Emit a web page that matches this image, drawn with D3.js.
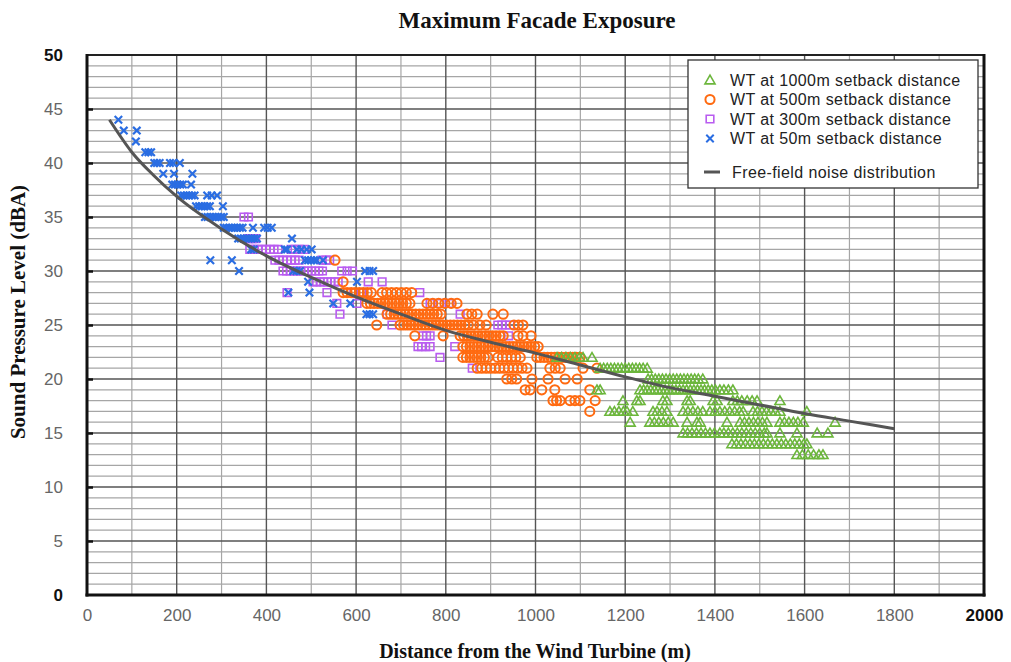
<!DOCTYPE html>
<html>
<head>
<meta charset="utf-8">
<script src="https://cdn.jsdelivr.net/npm/d3@7"></script>
<style>
  html, body { margin: 0; padding: 0; background: #fff; }
  svg { display: block; }
</style>
</head>
<body>
<svg id="chart" width="1011" height="662"></svg>
<script>
// Sound pressure level (dBA) at the facade versus distance from the turbine (m)
const wt50 = [
  [70,44],[82,43],[111,43],[109,42],[130,41],[137,41],[143,41],
  [150,40],[156,40],[162,40],[185,40],[192,40],[207,40],
  [170,39],[194,39],[235,39],
  [190,38],[196,38],[202,38],[208,38],[214,38],[232,38],
  [210,37],[216,37],[222,37],[228,37],[234,37],[240,37],[268,37],[278,37],[290,37],
  [243,36],[250,36],[256,36],[262,36],[268,36],[274,36],[303,36],
  [263,35],[269,35],[275,35],[281,35],[287,35],[293,35],[299,35],[305,35],
  [305,34],[311,34],[317,34],[323,34],[329,34],[335,34],[341,34],[347,34],[370,34],[395,34],[403,34],[412,34],
  [337,33],[343,33],[349,33],[355,33],[361,33],[367,33],[373,33],[379,33],[457,33],
  [366,32],[372,32],[441,32],[446,32],[468,32],[478,32],[490,32],[501,32],
  [275,31],[323,31],[486,31],[493,31],[500,31],[506,31],[512,31],[526,31],
  [339,30],[460,30],[467,30],[475,30],[620,30],[630,30],[638,30],
  [493,29],[602,29],
  [449,28],[496,28],
  [549,27],[587,27],
  [623,26],[630,26],[638,26]
];

const wt300 = [
  [350,35],[360,35],
  [360,33],[368,33],[376,33],
  [363,32],[372,32],[381,32],[390,32],[399,32],[408,32],[417,32],[426,32],[455,32],[464,32],[474,32],[485,32],
  [419,31],[428,31],[437,31],[446,31],[455,31],[464,31],[473,31],[524,31],[533,31],[541,31],
  [437,30],[445,30],[453,30],[461,30],[469,30],[477,30],[485,30],[493,30],[501,30],[509,30],[517,30],[525,30],[568,30],[580,30],[592,30],
  [504,29],[512,29],[520,29],[528,29],[536,29],[544,29],[552,29],[560,29],[627,29],[658,29],
  [446,28],[535,28],[595,28],[612,28],[742,28],
  [557,27],[602,27],[765,27],[787,27],[809,27],
  [564,26],[669,26],[832,26],
  [680,25],[916,25],[925,25],[934,25],[943,25],
  [749,24],[757,24],[765,24],[940,24],
  [738,23],[746,23],[755,23],[765,23],[820,23],
  [787,22],
  [859,21]
];

const wt500 = [
  [553,31],
  [571,29],
  [571,28],[580,28],[589,28],[598,28],[607,28],[616,28],[625,28],[634,28],[658,28],[668,28],[679,28],[690,28],[701,28],[712,28],[724,28],
  [624,27],[632,27],[640,27],[648,27],[656,27],[664,27],[672,27],[680,27],[688,27],[696,27],[704,27],[712,27],[720,27],[758,27],[771,27],[784,27],[798,27],[812,27],[825,27],
  [669,26],[677,26],[685,26],[693,26],[701,26],[709,26],[717,26],[725,26],[733,26],[741,26],[749,26],[757,26],[765,26],[773,26],[781,26],[789,26],[847,26],[858,26],[870,26],[905,26],[928,26],
  [646,25],[698,25],[706,25],[714,25],[722,25],[730,25],[738,25],[746,25],[754,25],[762,25],[770,25],[778,25],[786,25],[794,25],[802,25],[810,25],[818,25],[826,25],[834,25],[842,25],[850,25],[862,25],[876,25],[890,25],[952,25],[962,25],[972,25],
  [731,24],[794,24],[832,24],[840,24],[848,24],[856,24],[864,24],[872,24],[880,24],[888,24],[896,24],[904,24],[912,24],[920,24],[928,24],[961,24],[972,24],[990,24],
  [838,23],[846,23],[854,23],[862,23],[870,23],[878,23],[886,23],[894,23],[902,23],[910,23],[918,23],[926,23],[934,23],[942,23],[950,23],[958,23],[966,23],[974,23],[982,23],[990,23],[998,23],[1006,23],
  [838,22],[846,22],[854,22],[862,22],[870,22],[878,22],[886,22],[894,22],[916,22],[926,22],[936,22],[946,22],[956,22],[966,22],
  [1003,22],[1011,22],[1019,22],[1027,22],[1035,22],[1043,22],[1051,22],[1059,22],[1067,22],[1075,22],[1083,22],[1091,22],[1099,22],
  [870,21],[880,21],[890,21],[900,21],[910,21],[920,21],[930,21],[940,21],[950,21],[960,21],[970,21],[981,21],[1032,21],[1044,21],[1055,21],[1106,21],[1137,21],
  [936,20],[947,20],[958,20],[992,20],[1028,20],[1066,20],[1093,20],
  [977,19],[988,19],[1014,19],[1043,19],[1121,19],
  [1039,18],[1047,18],[1055,18],[1077,18],[1088,18],[1099,18],[1133,18],
  [1121,17]
];

const wt1000 = [
  [1048,22],[1058,22],[1068,22],[1078,22],[1088,22],[1098,22],[1106,22],[1126,22],
  [1144,21],[1152,21],[1160,21],[1168,21],[1176,21],[1184,21],[1192,21],[1200,21],[1208,21],[1216,21],[1224,21],[1232,21],[1240,21],[1249,21],
  [1251,20],[1259,20],[1267,20],[1275,20],[1283,20],[1291,20],[1299,20],[1307,20],[1315,20],[1323,20],[1331,20],[1339,20],[1347,20],[1355,20],[1363,20],[1373,20],
  [1137,19],[1144,19],[1233,19],[1241,19],[1249,19],[1257,19],[1265,19],[1273,19],[1281,19],[1289,19],[1297,19],[1305,19],[1313,19],[1321,19],[1329,19],[1337,19],[1345,19],[1353,19],[1361,19],[1369,19],[1377,19],[1385,19],[1393,19],[1401,19],[1411,19],[1420,19],[1430,19],[1440,19],
  [1195,18],[1226,18],[1233,18],[1284,18],[1293,18],[1338,18],[1345,18],[1396,18],[1405,18],[1440,18],[1450,18],[1460,18],[1472,18],[1483,18],[1494,18],[1545,18],
  [1166,17],[1176,17],[1186,17],[1196,17],[1204,17],[1217,17],[1262,17],[1271,17],[1282,17],[1293,17],[1329,17],[1340,17],[1351,17],[1362,17],[1373,17],[1389,17],[1400,17],[1411,17],[1422,17],[1433,17],[1444,17],[1455,17],[1463,17],[1485,17],[1495,17],[1505,17],[1515,17],[1525,17],[1535,17],[1545,17],[1605,17],
  [1211,16],[1255,16],[1265,16],[1275,16],[1285,16],[1296,16],[1307,16],[1338,16],[1360,16],[1367,16],[1427,16],[1456,16],[1466,16],[1476,16],[1486,16],[1496,16],[1506,16],[1516,16],[1545,16],[1555,16],[1565,16],[1575,16],[1585,16],[1597,16],[1668,16],
  [1329,15],[1339,15],[1349,15],[1359,15],[1369,15],[1379,15],[1389,15],[1399,15],[1411,15],[1420,15],[1430,15],[1440,15],[1450,15],[1460,15],[1470,15],[1480,15],[1490,15],[1500,15],[1510,15],[1516,15],[1545,15],[1583,15],[1628,15],[1652,15],
  [1438,14],[1448,14],[1458,14],[1468,14],[1478,14],[1488,14],[1498,14],[1508,14],[1518,14],[1528,14],[1538,14],[1548,14],[1558,14],[1568,14],[1578,14],[1588,14],[1598,14],[1605,14],
  [1583,13],[1595,13],[1608,13],[1620,13],[1632,13],[1641,13]
];

// Free-field noise distribution
const freeFieldDist  = [50,100,150,200,300,400,500,600,700,800,900,1000,1100,1200,1300,1400,1500,1600,1700,1800];
const freeFieldLevel = [44.0,41.0,38.8,36.9,33.9,31.4,29.4,27.6,26.0,24.5,23.4,22.4,21.3,20.2,19.2,18.4,17.6,16.8,16.1,15.4];

const xTickValues = [0,200,400,600,800,1000,1200,1400,1600,1800,2000];
const yTickValues = [0,5,10,15,20,25,30,35,40,45,50];

const legendLabels = [
  "WT at 1000m setback distance",
  "WT at 500m setback distance",
  "WT at 300m setback distance",
  "WT at 50m setback distance"
];
const lineLabel = "Free-field noise distribution";

const colors = { wt1000: "#6cb63c", wt500: "#ff6a10", wt300: "#b95cf0", wt50: "#2a6de2", line: "#555555" };

const svg = d3.select("#chart");
const plotL = 87, plotR = 984, plotT = 55, plotB = 595;

const x = d3.scaleLinear().domain([0, 2000]).range([plotL, plotR]);
const y = d3.scaleLinear().domain([0, 50]).range([plotB, plotT]);

// Grid
const grid = svg.append("g");
grid.selectAll("line.vminor").data(d3.range(100, 2000, 200)).join("line")
  .attr("x1", d => x(d)).attr("x2", d => x(d)).attr("y1", plotT).attr("y2", plotB)
  .attr("stroke", "#a6a6a6").attr("stroke-width", 1.2);
grid.selectAll("line.hminor").data(d3.range(1, 50).filter(v => v % 5 !== 0)).join("line")
  .attr("x1", plotL).attr("x2", plotR).attr("y1", d => y(d)).attr("y2", d => y(d))
  .attr("stroke", "#a6a6a6").attr("stroke-width", 1.2);
grid.selectAll("line.vmajor").data(xTickValues.slice(1, -1)).join("line")
  .attr("x1", d => x(d)).attr("x2", d => x(d)).attr("y1", plotT).attr("y2", plotB)
  .attr("stroke", "#555").attr("stroke-width", 1.4);
grid.selectAll("line.hmajor").data(yTickValues.slice(1, -1)).join("line")
  .attr("x1", plotL).attr("x2", plotR).attr("y1", d => y(d)).attr("y2", d => y(d))
  .attr("stroke", "#555").attr("stroke-width", 1.4);

// Markers
const plot = svg.append("g");
const sym = (type, size) => d3.symbol().type(type).size(size)();

plot.selectAll("path.s300").data(wt300).join("path")
  .attr("d", sym(d3.symbolSquare, 58))
  .attr("transform", d => `translate(${x(d[0])},${y(d[1])})`)
  .attr("fill", "none").attr("stroke", colors.wt300).attr("stroke-width", 1.6);

plot.selectAll("path.s500").data(wt500).join("path")
  .attr("d", sym(d3.symbolCircle, 66))
  .attr("transform", d => `translate(${x(d[0])},${y(d[1])})`)
  .attr("fill", "none").attr("stroke", colors.wt500).attr("stroke-width", 2);

plot.selectAll("path.s1000").data(wt1000).join("path")
  .attr("d", sym(d3.symbolTriangle, 44))
  .attr("transform", d => `translate(${x(d[0])},${y(d[1]) + 1})`)
  .attr("fill", "none").attr("stroke", colors.wt1000).attr("stroke-width", 1.6);

plot.selectAll("path.s50").data(wt50).join("path")
  .attr("d", sym(d3.symbolX, 38))
  .attr("transform", d => `translate(${x(d[0])},${y(d[1])})`)
  .attr("fill", "none").attr("stroke", colors.wt50).attr("stroke-width", 2.2);

// Free-field curve
const curvePts = freeFieldDist.map((d, i) => [d, freeFieldLevel[i]]);
svg.append("path")
  .attr("d", d3.line().x(d => x(d[0])).y(d => y(d[1])).curve(d3.curveMonotoneX)(curvePts))
  .attr("fill", "none").attr("stroke", colors.line).attr("stroke-width", 3);

// Frame
svg.append("line").attr("x1", plotL).attr("x2", plotR).attr("y1", plotT).attr("y2", plotT)
  .attr("stroke", "#222").attr("stroke-width", 2.2);
svg.append("line").attr("x1", plotL).attr("x2", plotL).attr("y1", plotT - 1).attr("y2", plotB + 1.5)
  .attr("stroke", "#111").attr("stroke-width", 3);
svg.append("line").attr("x1", plotR).attr("x2", plotR).attr("y1", plotT - 1).attr("y2", plotB + 1.5)
  .attr("stroke", "#111").attr("stroke-width", 3);
svg.append("line").attr("x1", plotL - 1.5).attr("x2", plotR + 1.5).attr("y1", plotB).attr("y2", plotB)
  .attr("stroke", "#111").attr("stroke-width", 3);

// Y axis ticks and labels
const yAxis = d3.axisLeft(y).tickValues(yTickValues).tickSize(-6).tickPadding(24);
const gy = svg.append("g").attr("transform", `translate(${plotL},0)`).call(yAxis);
gy.select(".domain").remove();
gy.selectAll(".tick line").attr("stroke", "#111").attr("stroke-width", 2.5)
  .attr("display", d => (d === 0 || d === 50) ? "none" : null);
gy.selectAll(".tick text")
  .attr("font-family", "'Liberation Sans', Arial, sans-serif")
  .attr("font-size", 17)
  .attr("fill", d => (d === 0 || d === 50) ? "#111" : "#666")
  .attr("font-weight", d => (d === 0 || d === 50) ? "bold" : "normal");

// X axis labels
const xAxis = d3.axisBottom(x).tickValues(xTickValues).tickFormat(d3.format("d")).tickSize(0).tickPadding(14);
const gx = svg.append("g").attr("transform", `translate(0,${plotB})`).call(xAxis);
gx.select(".domain").remove();
gx.selectAll(".tick text")
  .attr("font-family", "'Liberation Sans', Arial, sans-serif")
  .attr("font-size", 17)
  .attr("fill", d => d === 2000 ? "#111" : "#666")
  .attr("font-weight", d => d === 2000 ? "bold" : "normal");

// Titles
svg.append("text").attr("x", 537).attr("y", 28).attr("text-anchor", "middle")
  .attr("font-family", "'Liberation Serif', 'Times New Roman', serif")
  .attr("font-weight", "bold").attr("font-size", 23).attr("fill", "#111")
  .text("Maximum Facade Exposure");
svg.append("text").attr("x", 535).attr("y", 658).attr("text-anchor", "middle")
  .attr("font-family", "'Liberation Serif', 'Times New Roman', serif")
  .attr("font-weight", "bold").attr("font-size", 20).attr("fill", "#111")
  .text("Distance from the Wind Turbine (m)");
svg.append("text").attr("transform", "translate(25,312) rotate(-90)").attr("text-anchor", "middle")
  .attr("font-family", "'Liberation Serif', 'Times New Roman', serif")
  .attr("font-weight", "bold").attr("font-size", 21).attr("fill", "#111")
  .text("Sound Pressure Level (dBA)");

// Legend
const lg = svg.append("g");
lg.append("rect").attr("x", 688).attr("y", 60).attr("width", 290).attr("height", 128)
  .attr("fill", "#fff").attr("stroke", "#333").attr("stroke-width", 1.3);
const legendItems = [
  { type: d3.symbolTriangle, size: 44, color: colors.wt1000, w: 1.6, dy: 1 },
  { type: d3.symbolCircle, size: 66, color: colors.wt500, w: 2, dy: 0 },
  { type: d3.symbolSquare, size: 58, color: colors.wt300, w: 1.6, dy: 0 },
  { type: d3.symbolX, size: 38, color: colors.wt50, w: 2, dy: 0 }
];
legendItems.forEach((it, i) => {
  const cy = 80 + i * 19.5;
  lg.append("path").attr("d", sym(it.type, it.size))
    .attr("transform", `translate(710,${cy + it.dy})`)
    .attr("fill", "none").attr("stroke", it.color).attr("stroke-width", it.w);
  lg.append("text").attr("x", 730).attr("y", cy + 5.5)
    .attr("font-family", "'Liberation Sans', Arial, sans-serif")
    .attr("font-size", 16).attr("letter-spacing", 0.4).attr("fill", "#222").text(legendLabels[i]);
});
lg.append("line").attr("x1", 704).attr("x2", 720).attr("y1", 172).attr("y2", 172)
  .attr("stroke", colors.line).attr("stroke-width", 3);
lg.append("text").attr("x", 732).attr("y", 177.5)
  .attr("font-family", "'Liberation Sans', Arial, sans-serif")
  .attr("font-size", 16).attr("letter-spacing", 0.4).attr("fill", "#222").text(lineLabel);
</script>
</body>
</html>
